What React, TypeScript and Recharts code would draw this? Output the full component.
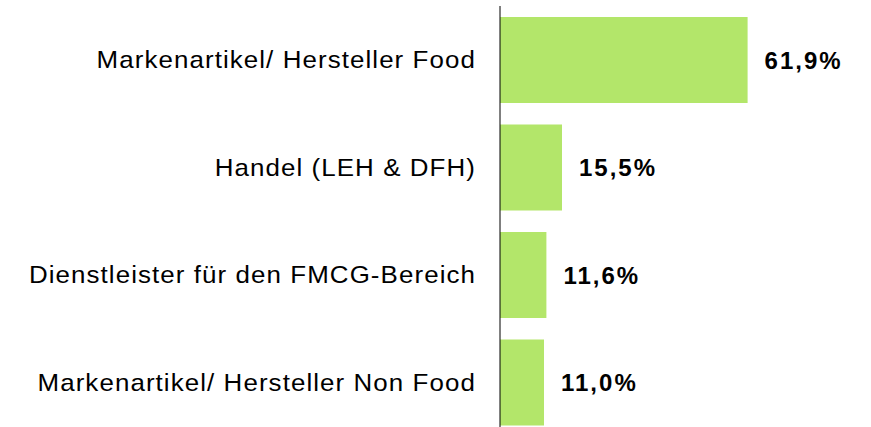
import { BarChart, Bar, XAxis, YAxis, LabelList } from "recharts";

const categories = [
  "Markenartikel/ Hersteller Food",
  "Handel (LEH & DFH)",
  "Dienstleister für den FMCG-Bereich",
  "Markenartikel/ Hersteller Non Food",
];
const shares = [61.9, 15.5, 11.6, 11.0];

const data = categories.map((name, i) => ({ name, value: shares[i] }));

const font = "'Liberation Sans', Arial, sans-serif";

// the source text is a bit wider and airier than plain Arial
const CategoryTick = (props: any) => {
  const { x, y, payload } = props;
  return (
    <g transform={`translate(${x + 1},${y})`}>
      <text
        transform="scale(1.08,1)"
        textAnchor="end"
        dy="0.355em"
        fontSize={24}
        fontFamily={font}
        fill="#000"
        style={{ letterSpacing: "1px" }}
      >
        {payload.value}
      </text>
    </g>
  );
};

export default function App() {
  return (
    <div
      style={{
        position: "absolute",
        left: 0,
        top: 0,
        width: 871,
        height: 427,
        overflow: "hidden",
        background: "#fff",
      }}
    >
      <BarChart
        width={871}
        height={441}
        data={data}
        layout="vertical"
        margin={{ top: 6, right: 51, bottom: 5, left: 0 }}
        barSize={86}
      >
        <XAxis type="number" domain={[0, 80]} hide />
        <YAxis
          type="category"
          dataKey="name"
          width={500}
          tickLine={false}
          tickSize={0}
          tickMargin={25}
          axisLine={{ stroke: "#000", strokeWidth: 1 }}
          tick={<CategoryTick />}
        />
        <Bar dataKey="value" fill="#b3e66a" isAnimationActive={false}>
          <LabelList
            dataKey="value"
            position="right"
            offset={17}
            formatter={(v: number) => `${v.toFixed(1).replace(".", ",")}%`}
            style={{
              fontSize: 24,
              fontWeight: "bold",
              fill: "#000",
              fontFamily: font,
              letterSpacing: "2px",
            }}
          />
        </Bar>
      </BarChart>
    </div>
  );
}
